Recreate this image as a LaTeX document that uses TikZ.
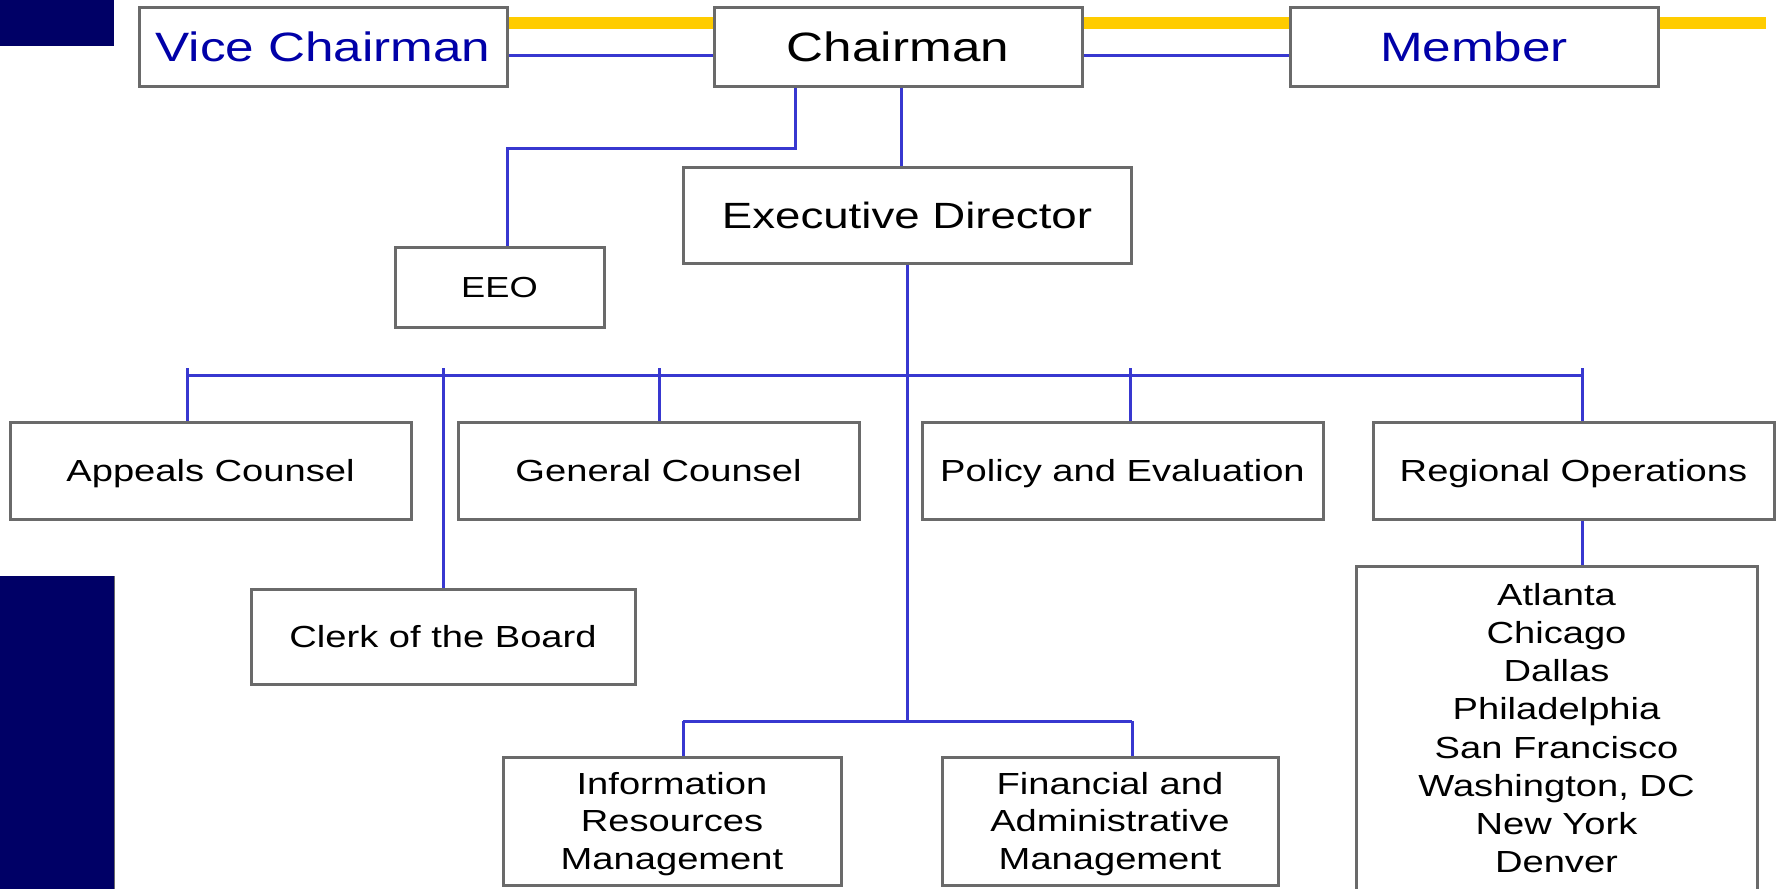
\documentclass[tikz,border=0pt]{standalone}
\usepackage{fontspec}
\newfontfamily\orgfont{Liberation Sans}[FakeStretch=1.25]
\definecolor{navy}{HTML}{000066}
\definecolor{lineblue}{HTML}{3838D0}
\definecolor{boxgray}{HTML}{6A6A6A}
\definecolor{gold}{HTML}{FFCC00}
\definecolor{titleblue}{HTML}{0000A8}
\begin{document}
\begin{tikzpicture}[x=1pt,y=-1pt,
  box/.style={draw=boxgray,line width=3pt,fill=white,inner sep=0pt,anchor=center,align=center},
  conn/.style={draw=lineblue,line width=3pt},
  topbox/.style={box,font=\orgfont\fontsize{41}{49}\selectfont,text height=29.4pt,text depth=0pt,minimum width=368pt,minimum height=79pt},
  edbox/.style={box,font=\orgfont\fontsize{36.5}{44}\selectfont,text height=26.1pt,text depth=0pt},
  midbox/.style={box,font=\orgfont\fontsize{30.5}{37.5}\selectfont,text height=21.8pt,text depth=0pt},
  tribox/.style={box,font=\orgfont\fontsize{30.5}{37.5}\selectfont,text height=96.8pt,text depth=0pt,minimum width=338pt,minimum height=128pt},
  citytext/.style={font=\orgfont\fontsize{30.5}{38.2}\selectfont,align=center,inner sep=0pt,text height=289.2pt,text depth=0pt,anchor=north}
]
\clip (0,0) rectangle (1781,889);
\fill[white] (0,0) rectangle (1781,889);
% navy side bars
\fill[navy] (0,0) rectangle (114,46);
\fill[navy] (0,576) rectangle (114,889);
\draw[boxgray,line width=1pt] (114.5,576) -- (114.5,889);
% gold band
\coordinate (goldL) at (507,23);
\coordinate (goldR) at (1766,23);
\draw[gold,line width=12pt] (goldL) -- (goldR);
% top row
\node[topbox,text=titleblue] (vc) at (323,46.5) {Vice Chairman};
\node[topbox] (chair) at (898,46.5) {Chairman};
\node[topbox,text=titleblue] (member) at (1474,46.5) {Member};
\draw[conn] (vc.east |- 0,55) -- (chair.west |- 0,55);
\draw[conn] (chair.east |- 0,55) -- (member.west |- 0,55);
% executive director and EEO
\node[edbox,minimum width=448pt,minimum height=96pt] (ed) at (907,215) {Executive Director};
\node[midbox,font=\orgfont\fontsize{29}{36}\selectfont,text height=20.8pt,minimum width=209pt,minimum height=80pt] (eeo) at (499.5,287) {EEO};
\coordinate (eeoTurn) at (795,148);
\draw[conn] (chair.south -| eeoTurn) -- (eeoTurn) -| (eeo.north -| 507,0);
\draw[conn] (chair.south -| 901,0) -- (ed.north -| 901,0);
% second level
\node[midbox,minimum width=401pt,minimum height=97pt] (appeals) at (210.5,470.5) {Appeals Counsel};
\node[midbox,minimum width=401pt,minimum height=97pt] (general) at (658.5,470.5) {General Counsel};
\node[midbox,minimum width=401pt,minimum height=97pt] (policy) at (1122.5,470.5) {Policy and Evaluation};
\node[midbox,minimum width=401pt,minimum height=97pt] (regional) at (1573.5,470.5) {Regional Operations};
\node[midbox,minimum width=384pt,minimum height=95pt] (clerk) at (443,636.5) {Clerk of the Board};
% main bus
\coordinate (busL) at (187,375);
\coordinate (busR) at (1582,375);
\draw[conn] (busL) -- (busR);
\coordinate (tA) at (187,368);
\coordinate (tC) at (443,368);
\coordinate (tG) at (659,368);
\coordinate (tP) at (1130,368);
\coordinate (tR) at (1582,368);
\draw[conn] (tA) -- (tA |- appeals.north);
\draw[conn] (tC) -- (tC |- clerk.north);
\draw[conn] (tG) -- (tG |- general.north);
\draw[conn] (tP) -- (tP |- policy.north);
\draw[conn] (tR) -- (tR |- regional.north);
% lower group
\node[tribox] (info) at (672,821) {Information\\Resources\\Management};
\node[tribox,minimum width=336pt] (fin) at (1110,821) {Financial and\\Administrative\\Management};
\coordinate (lowL) at (683,721);
\coordinate (lowR) at (1132,721);
\draw[conn] (ed.south) -- (ed.south |- lowL);
\draw[conn] (lowL) -- (lowR);
\draw[conn] (lowL) -- (lowL |- info.north);
\draw[conn] (lowR) -- (lowR |- fin.north);
% regional offices
\node[box,minimum width=401pt,minimum height=334pt] (cities) at (1556.5,733) {};
\node[citytext] (citylist) at (1556.5,583.2) {Atlanta\\Chicago\\Dallas\\Philadelphia\\San Francisco\\Washington, DC\\New York\\Denver};
\draw[conn] (regional.south -| tR) -- (cities.north -| tR);
\end{tikzpicture}
\end{document}
